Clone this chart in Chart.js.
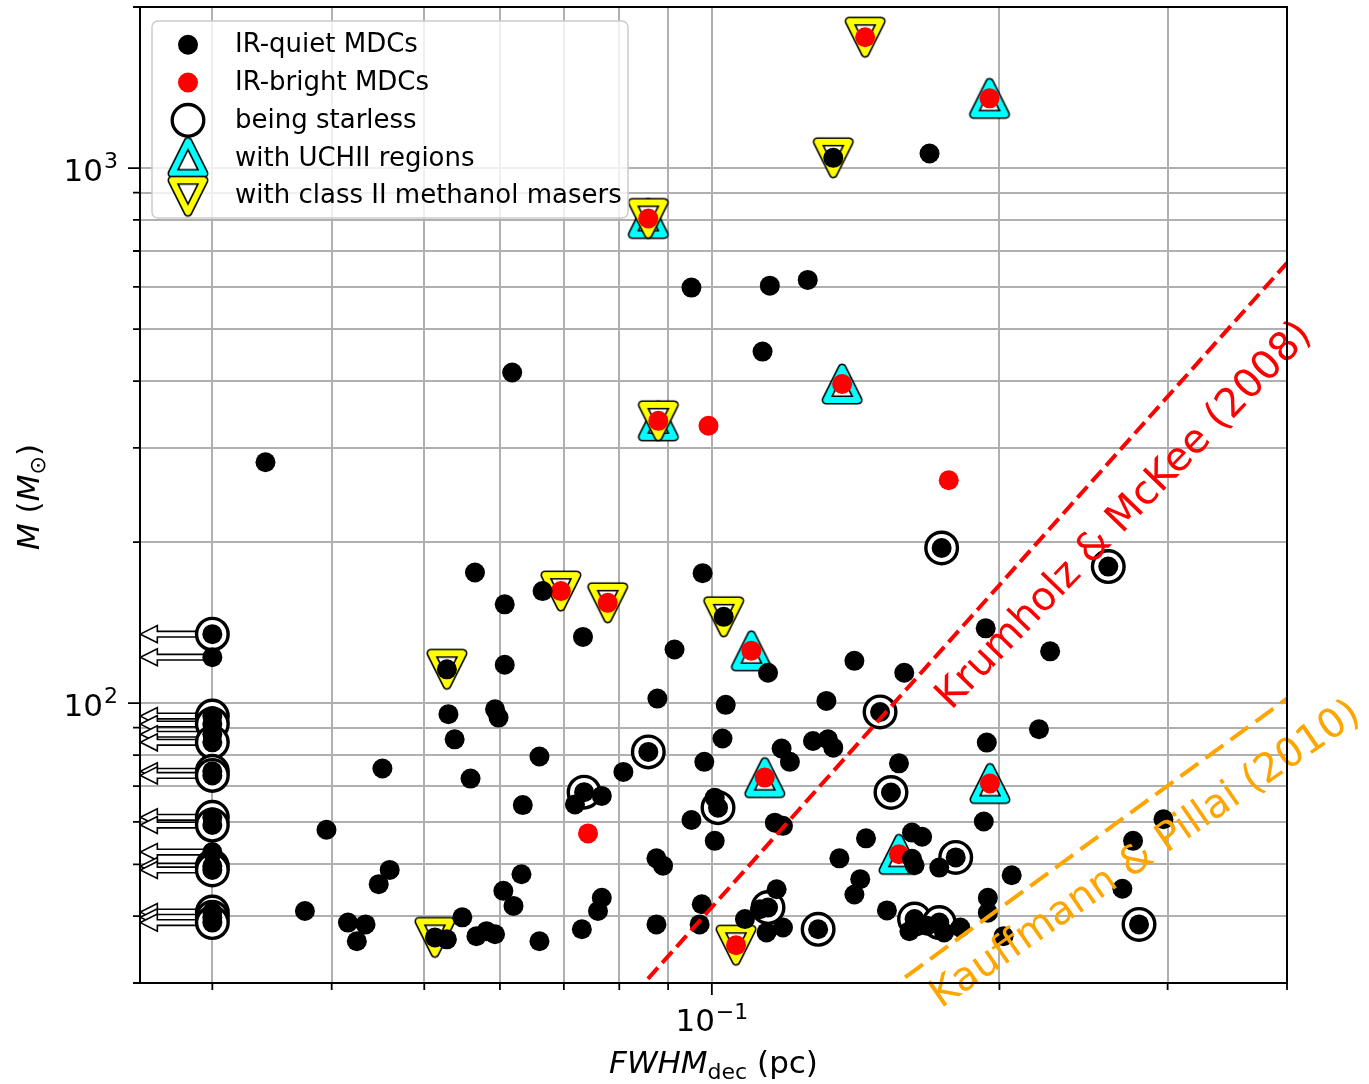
<!DOCTYPE html>
<html>
<head>
<meta charset="utf-8">
<script src="https://cdn.jsdelivr.net/npm/chart.js@4.4.0/dist/chart.umd.min.js"></script>
<style>
  body { margin: 0; background: #fff; }
  #wrap { width: 1369px; height: 1084px; }
</style>
</head>
<body>
<div id="wrap"><canvas id="chart" width="1369" height="1084"></canvas></div>
<script>
// deconvolved FWHM (pc) and mass (Msun)
const quietFWHM = [0.134, 0.169, 0.0952, 0.115, 0.126, 0.113, 0.0618, 0.0341, 0.174, 0.260,
    0.1935, 0.226, 0.159, 0.141, 0.150, 0.220, 0.194, 0.157, 0.154, 0.1926,
    0.297, 0.276, 0.145, 0.162, 0.166, 0.162, 0.163, 0.180, 0.173, 0.206,
    0.143, 0.141, 0.269, 0.1945, 0.1945, 0.1525, 0.163, 0.173, 0.161, 0.168,
    0.175, 0.182, 0.202, 0.280, 0.0735, 0.0719, 0.0767, 0.0634, 0.1015, 0.1007,
    0.0952, 0.1007, 0.1164, 0.1187, 0.136, 0.0875, 0.0889, 0.0632, 0.0605, 0.062,
    0.0767, 0.076, 0.0731, 0.066, 0.0875, 0.0976, 0.0971, 0.1145, 0.1169, 0.1083,
    0.1141, 0.1187, 0.1123, 0.1292, 0.0665, 0.0978, 0.1029, 0.1145, 0.0607, 0.0607,
    0.0598, 0.0593, 0.0733, 0.0914, 0.0877, 0.1034, 0.1318, 0.1026, 0.0858, 0.066,
    0.0808, 0.0982, 0.1183, 0.1207, 0.1276, 0.1323, 0.134, 0.0565, 0.0528, 0.053,
    0.0538, 0.0452, 0.0559, 0.0395, 0.046, 0.0448, 0.0375, 0.0416, 0.0434, 0.0425,
    0.0513, 0.0528, 0.0548, 0.0567, 0.0581, 0.0593];
const quietMass = [1045, 1065, 598, 603, 618, 454, 415, 282, 195, 180,
    138, 125, 114, 120, 96.3, 89.4, 84.4, 77.2, 68.1, 60.1,
    60.7, 55.3, 55.9, 57.3, 56.3, 51.2, 49.8, 51.5, 49.3, 47.7,
    46.9, 43.9, 45.0, 43.3, 40.6, 41.0, 39.5, 38.9, 37.5, 38.4,
    37.3, 38.1, 36.7, 38.6, 68.2, 64.7, 67.1, 64.5, 63.8, 66.6,
    60.5, 55.3, 59.8, 59.0, 51.3, 51.3, 49.7, 47.9, 44.6, 41.8,
    43.3, 40.9, 37.8, 35.9, 38.6, 42.1, 38.6, 41.5, 44.9, 39.5,
    37.3, 38.1, 41.2, 37.8, 162, 175, 145, 114, 153, 118,
    94.0, 97.4, 133, 126, 102, 99.3, 101, 85.9, 81.1, 79.5,
    74.4, 77.7, 82.3, 77.7, 85.0, 85.6, 82.6, 175.5, 115.7, 95.4,
    85.6, 75.5, 72.3, 58.0, 48.8, 45.9, 40.9, 38.9, 38.6, 35.9,
    36.5, 36.2, 39.8, 36.7, 37.5, 37.0];

const brightFWHM = [0.1447, 0.1953, 0.0858, 0.1369, 0.0879, 0.0992, 0.177, 0.0695,
    0.0778, 0.110, 0.1136, 0.0742, 0.157, 0.1955, 0.106];
const brightMass = [1756, 1350, 805, 395, 337, 330, 261, 162,
    154, 125.3, 72.6, 57.1, 52.2, 70.8, 35.3];

const starlessFWHM = [0.174, 0.260, 0.150, 0.154, 0.180, 0.163, 0.173, 0.280, 0.0735, 0.1015,
    0.1145, 0.1292, 0.0858];
const starlessMass = [195, 180, 96.3, 68.1, 51.5, 39.5, 38.9, 38.6, 68.2, 63.8,
    41.5, 37.8, 81.1];

const uchiiFWHM = [0.1953, 0.0858, 0.1369, 0.0879, 0.110, 0.1136, 0.157, 0.1955];
const uchiiMass = [1350, 805, 395, 337, 125.3, 72.6, 52.2, 70.8];

const maserFWHM = [0.134, 0.1029, 0.0528, 0.0513, 0.1447, 0.0858, 0.0879, 0.0695, 0.0778, 0.106];
const maserMass = [1045, 145, 115.7, 36.5, 1756, 805, 337, 162, 154, 35.3];

// unresolved cores plotted at the 0.03 pc limit
const limitFWHM = 0.03;
const limitMass = [134.6, 121.9, 94.6, 91.4, 87.5, 84.5, 74.6, 73.3, 61.2, 59.2, 52.7, 49.6, 48.8, 40.7, 39.8, 38.9];
const limitStarlessMass = [134.6, 94.6, 91.4, 84.5, 74.6, 73.3, 61.2, 59.2, 49.6, 48.8, 40.7, 39.8, 38.9];

// threshold lines
const krumholzFWHM = [0.08, 0.4];
const krumholzMass = [26.6, 665];
const kauffmannFWHM = [0.15, 0.4];
const kauffmannMass = [28.4, 102];

const xGridTicks = [0.03, 0.04, 0.05, 0.06, 0.07, 0.08, 0.09, 0.1, 0.2, 0.3, 0.4];
const xLabelTicks = [0.1];
const yGridTicks = [30, 40, 50, 60, 70, 80, 90, 100, 200, 300, 400, 500, 600, 700, 800, 900, 1000, 2000];
const yLabelTicks = [100, 1000];

const legendLabels = ['IR-quiet MDCs', 'IR-bright MDCs', 'being starless', 'with UCHII regions', 'with class II methanol masers'];

const FONT = '"DejaVu Sans", "Liberation Sans", sans-serif';

function pts(xs, ys) {
    return xs.map((x, i) => ({ x: x, y: ys[i] }));
}

function triangleMarker(color, up) {
    const c = document.createElement('canvas');
    c.width = 54;
    c.height = 54;
    const g = c.getContext('2d');
    const s = 16, m = 27;
    g.beginPath();
    if (up) {
        g.moveTo(m, m - s); g.lineTo(m + s, m + s); g.lineTo(m - s, m + s);
    } else {
        g.moveTo(m, m + s); g.lineTo(m + s, m - s); g.lineTo(m - s, m - s);
    }
    g.closePath();
    g.lineJoin = 'round';
    g.fillStyle = '#fff';
    g.fill();
    g.lineWidth = 9;
    g.strokeStyle = '#000';
    g.stroke();
    g.lineWidth = 5.8;
    g.strokeStyle = color;
    g.stroke();
    return c;
}

const upTri = triangleMarker('#00ffff', true);
const downTri = triangleMarker('#ffff00', false);

function drawArrow(ctx, x, y) {
    const len = 72, hl = 17, hw = 8.5, sw = 2.8;
    const tip = x - len;
    ctx.beginPath();
    ctx.moveTo(x, y - sw);
    ctx.lineTo(tip + hl, y - sw);
    ctx.lineTo(tip + hl, y - hw);
    ctx.lineTo(tip, y);
    ctx.lineTo(tip + hl, y + hw);
    ctx.lineTo(tip + hl, y + sw);
    ctx.lineTo(x, y + sw);
    ctx.closePath();
    ctx.fillStyle = '#fff';
    ctx.fill();
    ctx.lineWidth = 1.6;
    ctx.strokeStyle = '#000';
    ctx.stroke();
}

function drawPower(ctx, exp, x, y, align) {
    const txt = exp < 0 ? '\u2212' + Math.abs(exp) : String(exp);
    ctx.font = '31px ' + FONT;
    const w1 = ctx.measureText('10').width;
    ctx.font = '22px ' + FONT;
    const w2 = ctx.measureText(txt).width;
    const total = w1 + 1 + w2;
    const left = align === 'center' ? x - total / 2 : x - total;
    ctx.fillStyle = '#000';
    ctx.textAlign = 'left';
    ctx.textBaseline = 'alphabetic';
    ctx.font = '31px ' + FONT;
    ctx.fillText('10', left, y);
    ctx.font = '22px ' + FONT;
    ctx.fillText(txt, left + w1 + 1, y - 12.5);
}

// draws pieces of a label one after the other, centered on x
function drawParts(ctx, parts, x, y) {
    let total = 0;
    parts.forEach(p => { ctx.font = p.font; total += ctx.measureText(p.text).width; });
    let cx = x - total / 2;
    ctx.textAlign = 'left';
    ctx.textBaseline = 'alphabetic';
    ctx.fillStyle = '#000';
    parts.forEach(p => {
        ctx.font = p.font;
        ctx.fillText(p.text, cx, y + (p.dy || 0));
        cx += ctx.measureText(p.text).width;
    });
}

const decor = {
    id: 'decor',
    beforeDatasetsDraw(chart) {
        const ctx = chart.ctx;
        const xs = chart.scales.x, ys = chart.scales.y;
        ctx.save();
        limitMass.forEach(m => drawArrow(ctx, xs.getPixelForValue(limitFWHM), ys.getPixelForValue(m)));
        ctx.restore();
    },
    afterDraw(chart) {
        const ctx = chart.ctx;
        const a = chart.chartArea;
        const xs = chart.scales.x, ys = chart.scales.y;
        ctx.save();

        // line labels
        ctx.textAlign = 'center';
        ctx.textBaseline = 'middle';
        ctx.font = '40px ' + FONT;
        ctx.save();
        ctx.translate(xs.getPixelForValue(0.2705), ys.getPixelForValue(223.7));
        ctx.rotate(-46 * Math.PI / 180);
        ctx.fillStyle = '#ff0000';
        ctx.fillText('Krumholz & McKee (2008)', 0, 0);
        ctx.restore();
        ctx.save();
        ctx.translate(xs.getPixelForValue(0.2846), ys.getPixelForValue(52.0));
        ctx.rotate(-34.5 * Math.PI / 180);
        ctx.fillStyle = '#ffa500';
        ctx.fillText('Kauffmann & Pillai (2010)', 0, 0);
        ctx.restore();

        // spines
        ctx.strokeStyle = '#000';
        ctx.lineWidth = 2;
        ctx.strokeRect(a.left, a.top, a.right - a.left, a.bottom - a.top);

        // ticks
        ctx.lineWidth = 1.8;
        ctx.beginPath();
        xGridTicks.forEach(v => {
            const px = xs.getPixelForValue(v);
            const len = xLabelTicks.includes(v) ? 12 : 7;
            ctx.moveTo(px, a.bottom);
            ctx.lineTo(px, a.bottom + len);
        });
        yGridTicks.forEach(v => {
            const py = ys.getPixelForValue(v);
            const len = yLabelTicks.includes(v) ? 12 : 7;
            ctx.moveTo(a.left, py);
            ctx.lineTo(a.left - len, py);
        });
        ctx.stroke();

        // tick labels
        xLabelTicks.forEach(v => drawPower(ctx, Math.round(Math.log10(v)), xs.getPixelForValue(v), a.bottom + 48, 'center'));
        yLabelTicks.forEach(v => drawPower(ctx, Math.round(Math.log10(v)), a.left - 22, ys.getPixelForValue(v) + 12.5, 'right'));

        // axis titles
        drawParts(ctx, [
            { text: 'FWHM', font: 'italic 31px ' + FONT },
            { text: 'dec', font: '22px ' + FONT, dy: 6 },
            { text: ' (pc)', font: '31px ' + FONT }
        ], (a.left + a.right) / 2, 1073);
        ctx.save();
        ctx.translate(38.7, (a.top + a.bottom) / 2 + 2);
        ctx.rotate(-Math.PI / 2);
        drawParts(ctx, [
            { text: 'M', font: 'italic 31px ' + FONT },
            { text: ' (', font: '31px ' + FONT },
            { text: 'M', font: 'italic 31px ' + FONT },
            { text: '\u2299', font: '22px ' + FONT, dy: 6 },
            { text: ')', font: '31px ' + FONT }
        ], 0, 0);
        ctx.restore();

        // legend
        const lx = 152, ly = 21, lw = 476, lh = 197;
        ctx.beginPath();
        ctx.roundRect(lx, ly, lw, lh, 6);
        ctx.fillStyle = 'rgba(255,255,255,0.8)';
        ctx.fill();
        ctx.strokeStyle = '#cccccc';
        ctx.lineWidth = 1.5;
        ctx.stroke();
        const mx = 188;
        const rows = [52.3, 90, 127.8, 165.5, 203.3];
        ctx.fillStyle = '#000';
        ctx.beginPath(); ctx.arc(mx, rows[0] - 7.5, 10, 0, 2 * Math.PI); ctx.fill();
        ctx.fillStyle = '#ff0000';
        ctx.beginPath(); ctx.arc(mx, rows[1] - 7.5, 10, 0, 2 * Math.PI); ctx.fill();
        ctx.beginPath(); ctx.arc(mx, rows[2] - 7.5, 15.8, 0, 2 * Math.PI);
        ctx.fillStyle = '#fff'; ctx.fill();
        ctx.lineWidth = 3.3; ctx.strokeStyle = '#000'; ctx.stroke();
        ctx.drawImage(upTri, mx - 27, rows[3] - 8 - 27);
        ctx.drawImage(downTri, mx - 27, rows[4] - 7 - 27);
        ctx.font = '26px ' + FONT;
        ctx.fillStyle = '#000';
        ctx.textAlign = 'left';
        ctx.textBaseline = 'alphabetic';
        legendLabels.forEach((t, i) => ctx.fillText(t, 235, rows[i]));

        ctx.restore();
    }
};

const quietPoints = pts(quietFWHM, quietMass).concat(limitMass.map(m => ({ x: limitFWHM, y: m })));
const starlessPoints = pts(starlessFWHM, starlessMass).concat(limitStarlessMass.map(m => ({ x: limitFWHM, y: m })));

new Chart(document.getElementById('chart'), {
    type: 'scatter',
    data: {
        datasets: [
            {
                label: 'Krumholz & McKee (2008)',
                data: pts(krumholzFWHM, krumholzMass),
                showLine: true, pointRadius: 0, borderColor: '#ff0000', borderWidth: 4,
                borderDash: [15, 6.5], order: 0
            },
            {
                label: 'Kauffmann & Pillai (2010)',
                data: pts(kauffmannFWHM, kauffmannMass),
                showLine: true, pointRadius: 0, borderColor: '#ffa500', borderWidth: 4,
                borderDash: [22, 9], order: 0
            },
            {
                label: legendLabels[0],
                data: quietPoints,
                pointRadius: 10, pointBackgroundColor: '#000', pointBorderWidth: 0, order: 1
            },
            {
                label: legendLabels[1],
                data: pts(brightFWHM, brightMass),
                pointRadius: 10, pointBackgroundColor: '#ff0000', pointBorderWidth: 0, order: 2
            },
            {
                label: legendLabels[2],
                data: starlessPoints,
                pointRadius: 15.8, pointBackgroundColor: '#fff', pointBorderColor: '#000',
                pointBorderWidth: 3.4, order: 3
            },
            {
                label: legendLabels[4],
                data: pts(maserFWHM, maserMass),
                pointStyle: downTri, pointRadius: 20, order: 4
            },
            {
                label: legendLabels[3],
                data: pts(uchiiFWHM, uchiiMass),
                pointStyle: upTri, pointRadius: 20, order: 5
            }
        ]
    },
    options: {
        responsive: false,
        animation: false,
        devicePixelRatio: 1,
        events: [],
        layout: { autoPadding: false, padding: { left: 140, top: 7, right: 82, bottom: 101 } },
        plugins: { legend: { display: false }, tooltip: { enabled: false } },
        scales: {
            x: {
                type: 'logarithmic', min: 0.0252, max: 0.4,
                afterBuildTicks: axis => { axis.ticks = xGridTicks.map(v => ({ value: v })); },
                ticks: { display: false },
                grid: { color: '#b0b0b0', lineWidth: 2, drawTicks: false },
                border: { display: false }
            },
            y: {
                type: 'logarithmic', min: 30, max: 2000,
                afterBuildTicks: axis => { axis.ticks = yGridTicks.map(v => ({ value: v })); },
                ticks: { display: false },
                grid: { color: '#b0b0b0', lineWidth: 2, drawTicks: false },
                border: { display: false }
            }
        }
    },
    plugins: [decor]
});
</script>
</body>
</html>
